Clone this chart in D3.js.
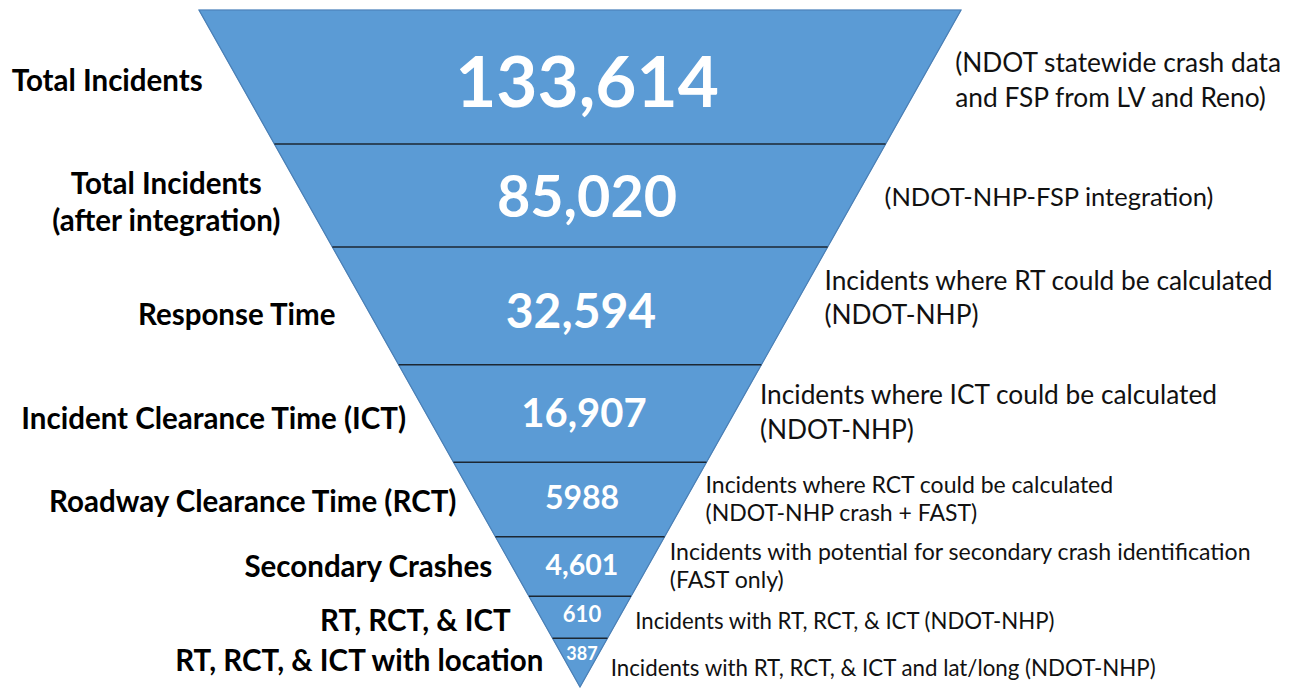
<!DOCTYPE html>
<html>
<head>
<meta charset="utf-8">
<script src="https://cdn.jsdelivr.net/npm/d3@7"></script>
<style>
    html, body { margin: 0; padding: 0; background: #fff; }
    svg { display: block; }
</style>
</head>
<body>
<div id="funnel"></div>
<script>
// stage names, counts and the notes next to each band
var stages = [
    "Total Incidents",
    "Total Incidents\n(after integration)",
    "Response Time",
    "Incident Clearance Time (ICT)",
    "Roadway Clearance Time (RCT)",
    "Secondary Crashes",
    "RT, RCT, & ICT",
    "RT, RCT, & ICT with location"
];
var counts = [133614, 85020, 32594, 16907, 5988, 4601, 610, 387];
var countLabels = ["133,614", "85,020", "32,594", "16,907", "5988", "4,601", "610", "387"];
var notes = [
    "(NDOT statewide crash data\nand FSP from LV and Reno)",
    "(NDOT-NHP-FSP integration)",
    "Incidents where RT could be calculated\n(NDOT-NHP)",
    "Incidents where ICT could be calculated\n(NDOT-NHP)",
    "Incidents where RCT could be calculated\n(NDOT-NHP crash + FAST)",
    "Incidents with potential for secondary crash identification\n(FAST only)",
    "Incidents with RT, RCT, & ICT (NDOT-NHP)",
    "Incidents with RT, RCT, & ICT and lat/long (NDOT-NHP)"
];

(function(d3) {

    "use strict";

    /**
     * Inverted funnel drawn as stacked trapezoids
     * @param {String} element container selector
     * @param {Object} options layout params
     * @constructor
     */
    function Funnel(element, options) {
        this.element = element;
        this.options = Object.assign({
            width: 1289,
            height: 688,
            cx: 580,
            top: 10,
            apex: 687,
            halfWidth: 381,
            // band boundaries as a fraction of the funnel depth
            breaks: [0, 0.198, 0.350, 0.524, 0.668, 0.778, 0.866, 0.928, 1],
            numberSize: [71, 57.5, 48, 40, 32, 28.5, 22, 18],
            numberDx: [5, 5, -1, 2, 0, 0, 0, 0],
            numberDy: [4, 1, 5, -1, -2, -2, -3, -1],
            stageSize: 29.5,
            stageGap: [34, 23, 30, 20, 18, 20, 30, 23],
            stageDy: [3, 6, 9, 5, 2, 0, 3, -2],
            noteSize: [26.3, 25.5, 26.3, 26.3, 23, 23.1, 22.2, 22.3],
            noteLead: [1.3, 1.3, 1.3, 1.35, 1.22, 1.2, 1.2, 1.2],
            noteGap: [32, 28, 30, 26, 20, 22, 16, 17],
            noteDy: [3, 1.5, -8, -1.5, -0.5, -1, 4, 5]
        }, options);

        this.fill = "#5b9bd5";
        this.edge = "#4a7fb5";
        this.divider = "#1c2733";
        this.font = "Lato, 'Open Sans', sans-serif";
        this.svg = null;
    }

    /**
     * Build scales and draw everything
     * @return {Void}
     */
    Funnel.prototype.init = function() {
        var o = this.options;

        this.y = d3.scaleLinear().domain([0, 1]).range([o.top, o.apex]);
        this.hw = d3.scaleLinear().domain([0, 1]).range([o.halfWidth, 0]);

        this.svg = d3.select(this.element)
            .append("svg")
            .attr("width", o.width)
            .attr("height", o.height);

        this.bands = d3.range(counts.length).map(function(i) {
            return { i: i, t0: o.breaks[i], t1: o.breaks[i + 1], mid: (o.breaks[i] + o.breaks[i + 1]) / 2 };
        });

        this.drawBands();
        this.drawDividers();
        this.drawCounts();
        this.drawStages();
        this.drawNotes();
    };

    /**
     * Corner points of one band
     * @param  {Object} d band
     * @return {Array}   polygon points
     */
    Funnel.prototype.bandPoints = function(d) {
        var cx = this.options.cx, y = this.y, hw = this.hw;
        return [
            [cx - hw(d.t0), y(d.t0)],
            [cx + hw(d.t0), y(d.t0)],
            [cx + hw(d.t1), y(d.t1)],
            [cx - hw(d.t1), y(d.t1)]
        ];
    };

    Funnel.prototype.drawBands = function() {
        var self = this, o = this.options;
        var line = d3.line();

        this.svg.append("g")
            .selectAll("path")
            .data(this.bands)
            .enter()
            .append("path")
            .attr("d", function(d) { return line(self.bandPoints(d)) + "Z"; })
            .attr("fill", this.fill)
            .attr("stroke", this.fill)
            .attr("stroke-width", 0.6);

        // outline of the whole funnel
        this.svg.append("path")
            .attr("d", line([
                [o.cx - this.hw(0), this.y(0)],
                [o.cx + this.hw(0), this.y(0)],
                [o.cx, this.y(1)]
            ]) + "Z")
            .attr("fill", "none")
            .attr("stroke", this.edge)
            .attr("stroke-width", 1.2);
    };

    Funnel.prototype.drawDividers = function() {
        var o = this.options, y = this.y, hw = this.hw;

        this.svg.append("g")
            .selectAll("line")
            .data(o.breaks.slice(1, -1))
            .enter()
            .append("line")
            .attr("x1", function(t) { return o.cx - hw(t); })
            .attr("x2", function(t) { return o.cx + hw(t); })
            .attr("y1", function(t) { return y(t); })
            .attr("y2", function(t) { return y(t); })
            .attr("stroke", this.divider)
            .attr("stroke-width", 1.5);
    };

    Funnel.prototype.drawCounts = function() {
        var self = this, o = this.options;

        this.svg.append("g")
            .selectAll("text")
            .data(this.bands)
            .enter()
            .append("text")
            .attr("x", function(d) { return o.cx + 2 + o.numberDx[d.i]; })
            .attr("y", function(d) {
                // the last band is a triangle, its number sits near the centroid
                var t = d.i === counts.length - 1 ? d.t0 + (d.t1 - d.t0) / 3 : d.mid;
                return self.y(t) + o.numberDy[d.i];
            })
            .attr("dy", "0.36em")
            .attr("text-anchor", "middle")
            .attr("fill", "#fff")
            .attr("font-family", this.font)
            .attr("font-weight", 700)
            .attr("font-size", function(d) { return o.numberSize[d.i]; })
            .text(function(d) { return countLabels[d.i]; });
    };

    /**
     * Write multi-line text centred on its y
     * @param {Object}   sel   text selection
     * @param {Function} lines returns array of lines
     * @param {Function} size  returns font size
     * @param {Function} lead  returns line spacing factor
     */
    Funnel.prototype.multiline = function(sel, lines, size, lead) {
        sel.each(function(d) {
            var ls = lines(d), fs = size(d), lh = fs * lead(d);
            var x = d3.select(this).attr("x");
            d3.select(this)
                .selectAll("tspan")
                .data(ls)
                .enter()
                .append("tspan")
                .attr("x", x)
                .attr("dy", function(l, k) {
                    return k === 0 ? (-(ls.length - 1) / 2 * lh + 0.36 * fs) : lh;
                })
                .text(function(l) { return l; });
        });
    };

    Funnel.prototype.drawStages = function() {
        var self = this, o = this.options;

        var text = this.svg.append("g")
            .selectAll("text")
            .data(this.bands)
            .enter()
            .append("text")
            .attr("x", function(d) { return o.cx - self.hw(d.mid) - o.stageGap[d.i]; })
            .attr("y", function(d) { return self.y(d.mid) + o.stageDy[d.i]; })
            .attr("text-anchor", "end")
            .attr("fill", "#000")
            .attr("font-family", this.font)
            .attr("font-weight", 700)
            .attr("font-size", o.stageSize);

        this.multiline(text,
            function(d) { return stages[d.i].split("\n"); },
            function() { return o.stageSize; },
            function() { return 1.25; });

        // lines of a block are centred on each other, block ends at the gap
        text.each(function() {
            var el = d3.select(this),
                spans = el.selectAll("tspan"),
                xEnd = +el.attr("x"),
                widest = d3.max(spans.nodes(), function(n) { return n.getComputedTextLength(); });
            el.attr("text-anchor", "middle");
            spans.attr("x", xEnd - widest / 2);
        });
    };

    Funnel.prototype.drawNotes = function() {
        var self = this, o = this.options;

        var text = this.svg.append("g")
            .selectAll("text")
            .data(this.bands)
            .enter()
            .append("text")
            .attr("x", function(d) { return o.cx + self.hw(d.mid) + o.noteGap[d.i]; })
            .attr("y", function(d) { return self.y(d.mid) + o.noteDy[d.i]; })
            .attr("text-anchor", "start")
            .attr("fill", "#111")
            .attr("font-family", this.font)
            .attr("font-weight", 400)
            .attr("font-size", function(d) { return o.noteSize[d.i]; });

        this.multiline(text,
            function(d) { return notes[d.i].split("\n"); },
            function(d) { return o.noteSize[d.i]; },
            function(d) { return o.noteLead[d.i]; });
    };

    var funnel = new Funnel("#funnel", {});
    funnel.init();

})(d3);
</script>
</body>
</html>
